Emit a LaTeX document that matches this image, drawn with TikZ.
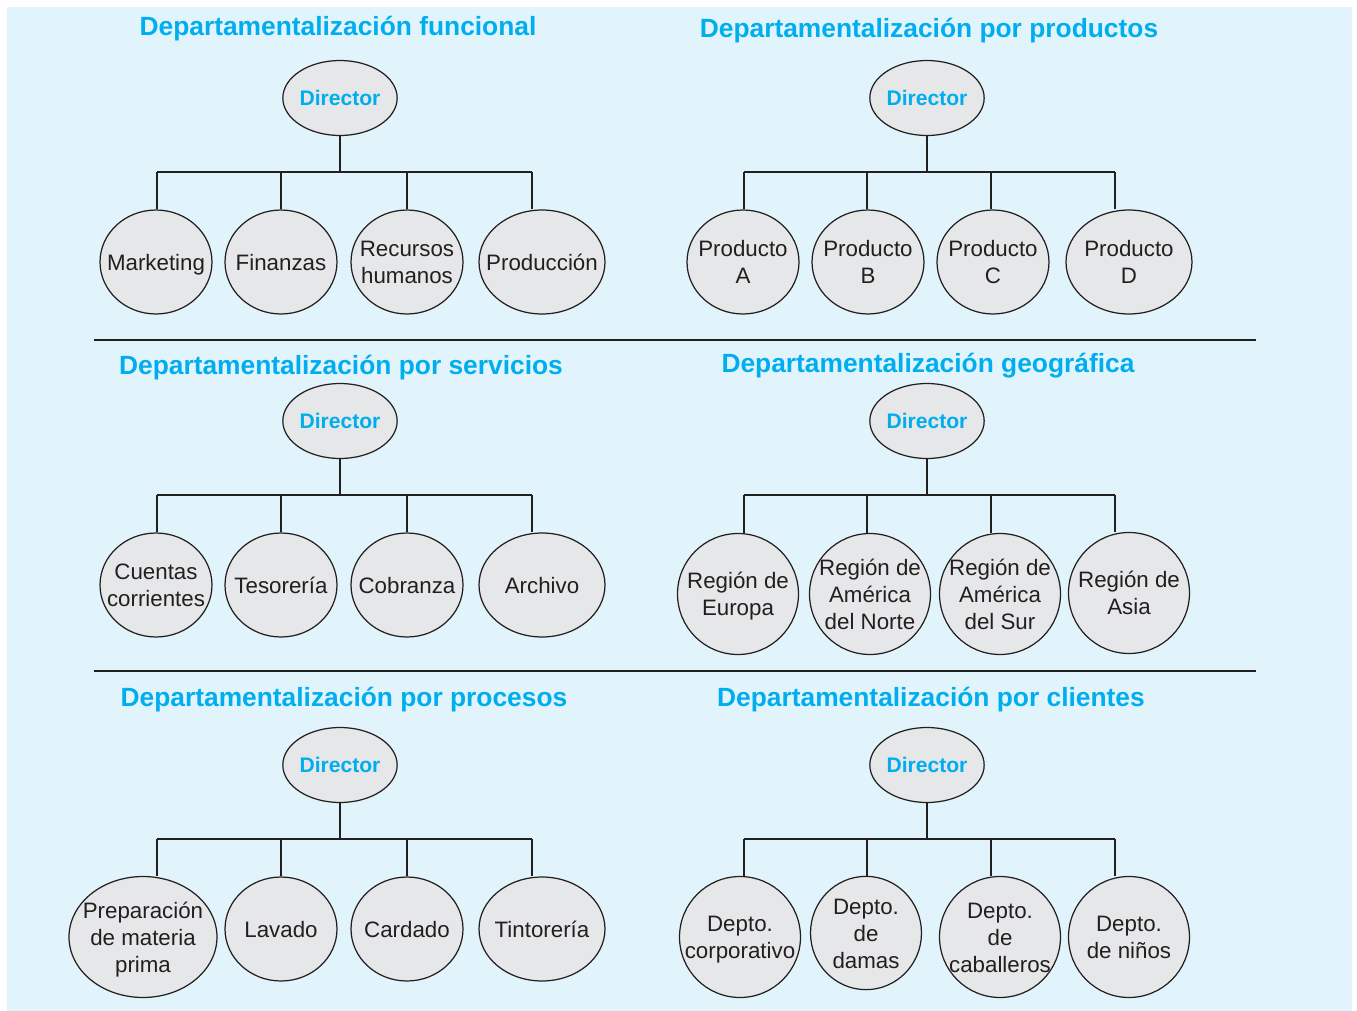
\documentclass[tikz,border=0pt]{standalone}
\usepackage{fontspec}
\setmainfont{Liberation Sans}
\usetikzlibrary{shapes.geometric,positioning}
\definecolor{fondo}{HTML}{E1F4FC}
\definecolor{elipse}{HTML}{E6E7E8}
\definecolor{azul}{HTML}{00AEEF}
\definecolor{linea}{HTML}{231F20}
% texto que no ensancha la elipse
\newcommand\rotulo[1]{\makebox[0pt]{\raisebox{-1.7pt}[\height][\depth]{\begin{tabular}{@{}c@{}}#1\end{tabular}}}}
\tikzset{
  jefe/.style={ellipse,draw=linea,line width=0.7pt,fill=elipse,minimum width=2.24cm,minimum height=1.5cm,inner sep=0pt,text=azul,font=\bfseries\fontsize{12}{14}\selectfont},
  unidad/.style={ellipse,draw=linea,line width=0.7pt,fill=elipse,minimum width=2.24cm,minimum height=2.08cm,inner sep=0pt,text=linea,font=\fontsize{12.7}{15.2}\selectfont},
  ancha/.style={unidad,minimum width=2.52cm},
  redonda/.style={unidad,minimum width=2.42cm,minimum height=2.42cm},
  titulo/.style={text=azul,font=\bfseries\fontsize{15}{18}\selectfont},
  rama/.style={draw=linea,line width=0.85pt}
}
\begin{document}
\begin{tikzpicture}[x=0.02cm,y=-0.02cm]
\useasboundingbox (0,0) rectangle (1357,1011);
\fill[fondo] (7,7) rectangle (1352,1011);
\draw[rama] (94,340) -- (1256,340);
\draw[rama] (94,671) -- (1256,671);
% funcional
\node[titulo] (tF) at (338,29) {Departamentalización funcional};
\node[jefe] (dirF) at (340,98) {Director};
\node[unidad] (mktF) at (156,262) {\rotulo{Marketing}};
\node[unidad] (finF) at (281,262) {\rotulo{Finanzas}};
\node[unidad] (rrhF) at (407,262) {\rotulo{Recursos\\humanos}};
\node[ancha] (proF) at (542,262) {\rotulo{Producción}};
% productos
\node[titulo] (tP) at (929,31) {Departamentalización por productos};
\node[jefe] (dirP) at (927,98) {Director};
\node[unidad] (paP) at (743,262) {\rotulo{Producto\\A}};
\node[unidad] (pbP) at (868,262) {\rotulo{Producto\\B}};
\node[unidad] (pcP) at (993,262) {\rotulo{Producto\\C}};
\node[ancha] (pdP) at (1129,262) {\rotulo{Producto\\D}};
% servicios
\node[titulo] (tS) at (341,368) {Departamentalización por servicios};
\node[jefe] (dirS) at (340,421) {Director};
\node[unidad] (ccS) at (156,585) {\rotulo{Cuentas\\corrientes}};
\node[unidad] (tesS) at (281,585) {\rotulo{Tesorería}};
\node[unidad] (cobS) at (407,585) {\rotulo{Cobranza}};
\node[ancha] (arcS) at (542,585) {\rotulo{Archivo}};
% geografica
\node[titulo] (tG) at (928,366) {Departamentalización geográfica};
\node[jefe] (dirG) at (927,421) {Director};
\node[redonda] (eurG) at (738,594) {\rotulo{Región de\\Europa}};
\node[redonda] (anG) at (870,594) {\rotulo{Región de\\América\\del Norte}};
\node[redonda] (asG) at (1000,594) {\rotulo{Región de\\América\\del Sur}};
\node[redonda] (asiaG) at (1129,593) {\rotulo{Región de\\Asia}};
% procesos
\node[titulo] (tR) at (344,700) {Departamentalización por procesos};
\node[jefe] (dirR) at (340,765) {Director};
\node[unidad,minimum width=2.96cm,minimum height=2.42cm] (prepR) at (143,937) {\rotulo{Preparación\\de materia\\prima}};
\node[unidad] (lavR) at (281,929) {\rotulo{Lavado}};
\node[unidad] (carR) at (407,929) {\rotulo{Cardado}};
\node[ancha] (tinR) at (542,929) {\rotulo{Tintorería}};
% clientes
\node[titulo] (tC) at (931,700) {Departamentalización por clientes};
\node[jefe] (dirC) at (927,765) {Director};
\node[redonda] (corpC) at (740,937) {\rotulo{Depto.\\corporativo}};
\node[unidad,minimum width=2.22cm] (damC) at (866,933) {\rotulo{Depto.\\de\\damas}};
\node[redonda] (cabC) at (1000,937) {\rotulo{Depto.\\de\\caballeros}};
\node[redonda] (ninC) at (1129,937) {\rotulo{Depto.\\de niños}};
% ramas
\foreach \d/\y/\a/\b/\c/\e in {F/172/mktF/finF/rrhF/proF, S/495/ccS/tesS/cobS/arcS, R/839/prepR/lavR/carR/tinR}{
  \coordinate (b\d) at (340,\y);
  \draw[rama] (dir\d) -- (b\d);
  \draw[rama] (157,\y) -- (532,\y);
  \foreach \n/\x in {\a/157,\b/281,\c/407,\e/532}
    \draw[rama] (\x,\y) -- (\x,\y |- \n.north);
}
\foreach \d/\y/\a/\b/\c/\e in {P/172/paP/pbP/pcP/pdP, G/495/eurG/anG/asG/asiaG, C/839/corpC/damC/cabC/ninC}{
  \coordinate (b\d) at (927,\y);
  \draw[rama] (dir\d) -- (b\d);
  \draw[rama] (744,\y) -- (1115,\y);
  \foreach \n/\x in {\a/744,\b/867,\c/991,\e/1115}
    \draw[rama] (\x,\y) -- (\x,\y |- \n.north);
}
\end{tikzpicture}
\end{document}
